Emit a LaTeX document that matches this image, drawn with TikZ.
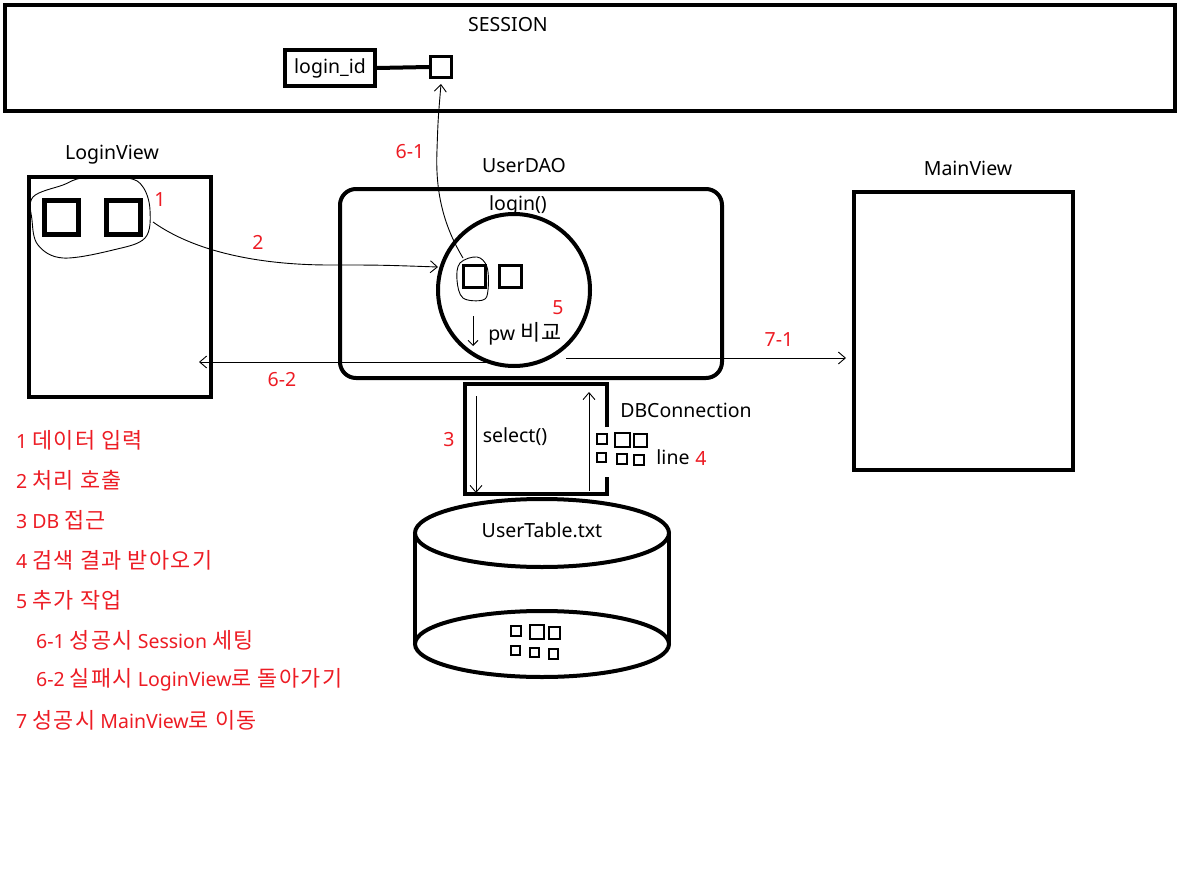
\documentclass[tikz,border=0pt]{standalone}
\usepackage{fontspec}
\setmainfont{Noto Sans}
\newfontfamily\kr[Scale=1.12,LetterSpace=6]{Noto Sans CJK KR}
\usetikzlibrary{arrows.meta}
\definecolor{pred}{RGB}{237,28,36}
\begin{document}
\begin{tikzpicture}[x=1pt,y=-1pt,
  txt/.style={font=\fontsize{19.5}{22}\selectfont, inner sep=0pt},
  rtxt/.style={txt, text=pred},
  thickbox/.style={draw, line width=4pt, inner sep=0pt},
  sq/.style={draw, line width=3pt, inner sep=0pt, minimum size=#1},
  tiny/.style={line width=2.4pt},
  barb/.style={line width=0.9pt, -{Straight Barb[length=7pt,width=12pt]}},
  hand/.style={line width=0.9pt},
  leg/.style={txt, text=pred, anchor=west}
]
\useasboundingbox (0,0) rectangle (1181,880);
\fill[white] (0,0) rectangle (1181,880);

% SESSION
\node[thickbox, minimum width=1170, minimum height=106] (session) at (590,58) {};
\node[txt] (sessiont) at (508,25) {SESSION};
\node[thickbox, minimum width=90, minimum height=36, txt, draw] (loginid) at (330,68) {login\_id};
\node[sq=21, line width=3pt] (sessq) at (441,67) {};
\draw[line width=4pt] (loginid.east) -- (sessq.west);

% LoginView
\node[txt] (lvt) at (112,155) {LoginView};
\node[thickbox, minimum width=182, minimum height=220] (lv) at (120,287) {};
\node[sq=34, line width=5pt] (lvs1) at (61,217) {};
\node[sq=34, line width=5pt] (lvs2) at (123,217) {};
\draw[hand] plot[smooth cycle, tension=0.6] coordinates {(33,197) (63,185) (83,178) (127,178) (143,187) (150,210) (145,238) (113,250) (63,258) (38,245) (32,220)};
\node[rtxt] (l1) at (160,200) {1};

% UserDAO
\node[txt] (udt) at (524,166) {UserDAO};
\node[thickbox, rounded corners=16pt, minimum width=382, minimum height=189] (ud) at (531,283.5) {};
\node[txt] (logint) at (518,205) {login()};
\node[draw, circle, line width=4pt, minimum size=152, inner sep=0pt] (circ) at (514,290) {};
\node[sq=22] (cs1) at (474,276) {};
\node[sq=22] (cs2) at (510,276) {};
\draw[hand] plot[smooth cycle, tension=0.6] coordinates {(460,263) (477,257) (487,267) (488,290) (483,300) (463,298) (457,280)};
\node[rtxt] (l5) at (558,308) {5};
\node[txt] (pw) at (525,334) {pw {\kr 비교}};
\coordinate (pwa) at (473,316);
\coordinate (pwb) at (473,346);
\draw[barb, -{Straight Barb[length=5pt,width=10pt]}] (pwa) -- (pwb);

% MainView
\node[txt] (mvt) at (968,168) {MainView};
\node[thickbox, minimum width=219, minimum height=278] (mv) at (963.5,331) {};

% DBConnection
\draw[line width=4pt] (607,427) -- (607,384) -- (465,384) -- (465,494) -- (607,494) -- (607,477);
\coordinate (dba) at (476,396);
\coordinate (dbb) at (476,493);
\coordinate (dbc) at (589,491);
\coordinate (dbd) at (589,392);
\draw[barb] (dba) -- (dbb);
\draw[barb] (dbc) -- (dbd);
\node[rtxt] (l3) at (449,440) {3};
\node[txt] (selt) at (515,437) {select()};
\node[txt] (dbt) at (686,410) {DBConnection};
\node[txt] (linet) at (673,457) {line};
\node[rtxt] (l4) at (701,458) {4};
\draw[tiny] (597,434) rectangle (607,444) (615,433) rectangle (630,447) (634,434) rectangle (647,447)
            (597,453) rectangle (606,462) (617,454) rectangle (627,464) (634,455) rectangle (644,465);

% cylinder
\draw[line width=4pt] (542,533) ellipse [x radius=127, y radius=34];
\draw[line width=4pt] (542,644) ellipse [x radius=127, y radius=33];
\draw[line width=4pt] (415,533) -- (415,644) (669,533) -- (669,644);
\node[txt] (utt) at (542,530) {UserTable.txt};
\draw[tiny] (511,626) rectangle (521,636) (530,625) rectangle (544,639) (549,627) rectangle (560,639)
            (511,646) rectangle (520,655) (530,648) rectangle (539,657) (549,649) rectangle (558,659);

% connectors
\coordinate (c2s) at (153,222);
\coordinate (c2e) at (438,267);
\draw[barb] (c2s) .. controls (195,252) and (260,265) .. (330,265) .. controls (380,265) .. (c2e);
\node[rtxt] (l2) at (258,242) {2};

\coordinate (c61s) at (463,258);
\coordinate (c61e) at (441,84);
\draw[barb] (c61s) .. controls (445,228) and (435,195) .. (437,150) .. controls (438,120) .. (c61e);
\node[rtxt] (l61) at (410,152) {6-1};

\coordinate (c62s) at (492,362);
\coordinate (c62e) at (199,362);
\draw[barb] (c62s) -- (c62e);
\node[rtxt] (l62) at (282,380) {6-2};

\coordinate (c71s) at (566,358);
\coordinate (c71e) at (846,358);
\draw[barb] (c71s) -- (c71e);
\node[rtxt] (l71) at (779,340) {7-1};

% legend
\node[leg] (g1) at (16,440) {1 {\kr 데이터 입력}};
\node[leg] (g2) at (16,480) {2 {\kr 처리 호출}};
\node[leg] (g3) at (16,520) {3 DB {\kr 접근}};
\node[leg] (g4) at (16,560) {4 {\kr 검색 결과 받아오기}};
\node[leg] (g5) at (16,600) {5 {\kr 추가 작업}};
\node[leg] (g61) at (36,640) {6-1 {\kr 성공시} Session {\kr 세팅}};
\node[leg] (g62) at (36,680) {6-2 {\kr 실패시} LoginView{\kr 로 돌아가기}};
\node[leg] (g7) at (16,720) {7 {\kr 성공시} MainView{\kr 로 이동}};
\end{tikzpicture}
\end{document}
